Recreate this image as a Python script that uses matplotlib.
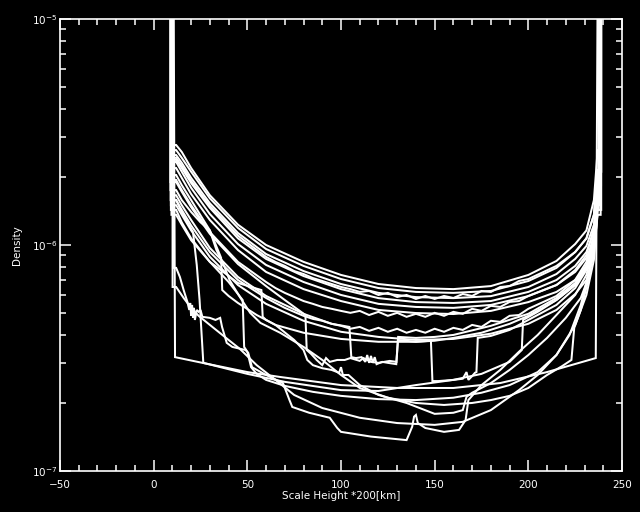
import matplotlib
matplotlib.use("Agg")
import matplotlib.pyplot as plt
from matplotlib.ticker import MultipleLocator, LogLocator, LogFormatterSciNotation, NullFormatter

WALL = 3e-5  # profiles shoot above the plotted range at both footpoints

# ---- shared abscissae -------------------------------------------------
grid_x = [12, 15, 20, 30, 45, 60, 80, 100, 120, 140, 160, 180, 200, 215, 225, 231, 235, 237]
wig_x = [12, 15, 20, 30, 45, 60, 65, 70, 75, 80, 85, 90, 95, 100, 105, 110, 115, 120, 125,
         130, 135, 140, 145, 150, 155, 160, 165, 170, 175, 180, 185, 190, 195, 200,
         215, 225, 231, 235, 237]

# ---- upper smooth profiles (on grid_x) --------------------------------
u1 = [2.77e-6, 2.58e-6, 2.19e-6, 1.66e-6, 1.23e-6, 1.00e-6, 8.42e-7, 7.37e-7, 6.72e-7, 6.45e-7,
      6.38e-7, 6.58e-7, 7.37e-7, 8.50e-7, 1.01e-6, 1.16e-6, 1.58e-6, 2.63e-6]
u2 = [2.63e-6, 2.43e-6, 2.11e-6, 1.61e-6, 1.19e-6, 9.60e-7, 8.08e-7, 7.07e-7, 6.45e-7, 6.20e-7,
      6.14e-7, 6.26e-7, 6.93e-7, 7.92e-7, 9.31e-7, 1.07e-6, 1.36e-6, 2.15e-6]
u3 = [2.50e-6, 2.31e-6, 1.98e-6, 1.53e-6, 1.13e-6, 9.12e-7, 7.67e-7, 6.72e-7, 6.14e-7, 5.88e-7,
      5.82e-7, 5.94e-7, 6.52e-7, 7.44e-7, 8.68e-7, 9.90e-7, 1.23e-6, 1.84e-6]
u4 = [2.38e-6, 2.19e-6, 1.88e-6, 1.46e-6, 1.07e-6, 8.68e-7, 7.29e-7, 6.38e-7, 5.82e-7, 5.59e-7,
      5.54e-7, 5.65e-7, 6.20e-7, 7.00e-7, 8.08e-7, 9.31e-7, 1.14e-6, 1.66e-6]
u5 = [2.33e-6, 2.11e-6, 1.79e-6, 1.37e-6, 1.01e-6, 8.16e-7, 6.86e-7, 6.01e-7, 5.49e-7, 5.32e-7,
      5.27e-7, 5.43e-7, 5.94e-7, 6.65e-7, 7.60e-7, 8.77e-7, 1.05e-6, 1.50e-6]
u6 = [2.19e-6, 1.98e-6, 1.68e-6, 1.29e-6, 9.50e-7, 7.60e-7, 6.38e-7, 5.65e-7, 5.16e-7, 5.00e-7,
      4.95e-7, 5.11e-7, 5.59e-7, 6.20e-7, 7.00e-7, 8.08e-7, 9.70e-7, 1.36e-6]
l3 = [1.50e-6, 1.36e-6, 1.16e-6, 8.86e-7, 6.65e-7, 5.49e-7, 4.62e-7, 4.13e-7, 3.92e-7, 3.80e-7,
      3.84e-7, 4.05e-7, 4.48e-7, 5.16e-7, 6.07e-7, 7.00e-7, 9.03e-7, 1.43e-6]
grid_ends = {"u1": (10.2, 238.0), "u2": (9.9, 238.4), "u3": (9.6, 238.8), "u4": (9.3, 237.8),
             "u5": (9.5, 238.2), "u6": (10.0, 238.6), "l3": (9.2, 237.6)}

# ---- wiggly profiles (on wig_x) ---------------------------------------
w1 = [1.94e-6, 1.75e-6, 1.50e-6, 1.14e-6, 8.42e-7, 6.86e-7, 6.45e-7, 6.14e-7, 5.89e-7, 5.65e-7,
      5.49e-7, 5.32e-7, 5.22e-7, 5.11e-7, 5.01e-7, 5.11e-7, 4.90e-7, 5.06e-7, 4.86e-7, 5.01e-7,
      4.81e-7, 4.96e-7, 4.81e-7, 5.01e-7, 4.86e-7, 5.06e-7, 4.96e-7, 5.22e-7, 5.11e-7, 5.38e-7,
      5.32e-7, 5.60e-7, 5.65e-7, 5.95e-7, 6.65e-7, 7.75e-7, 9.03e-7, 1.19e-6, 1.94e-6]
w2 = [1.58e-6, 1.43e-6, 1.22e-6, 9.31e-7, 7.00e-7, 5.83e-7, 5.54e-7, 5.27e-7, 5.06e-7, 4.86e-7,
      4.71e-7, 4.62e-7, 4.48e-7, 4.39e-7, 4.26e-7, 4.34e-7, 4.17e-7, 4.30e-7, 4.13e-7, 4.26e-7,
      4.09e-7, 4.21e-7, 4.09e-7, 4.26e-7, 4.13e-7, 4.30e-7, 4.21e-7, 4.43e-7, 4.34e-7, 4.62e-7,
      4.57e-7, 4.86e-7, 4.90e-7, 5.22e-7, 5.95e-7, 7.00e-7, 8.42e-7, 1.11e-6, 1.75e-6]
w3 = [2.43e-6, 2.24e-6, 1.92e-6, 1.49e-6, 1.10e-6, 8.86e-7, 8.42e-7, 8.08e-7, 7.67e-7, 7.44e-7,
      7.14e-7, 6.93e-7, 6.72e-7, 6.52e-7, 6.38e-7, 6.20e-7, 6.26e-7, 6.01e-7, 6.14e-7, 5.89e-7,
      6.01e-7, 5.77e-7, 5.95e-7, 5.77e-7, 5.95e-7, 5.83e-7, 6.07e-7, 5.95e-7, 6.26e-7, 6.20e-7,
      6.52e-7, 6.58e-7, 6.93e-7, 7.07e-7, 8.08e-7, 9.31e-7, 1.07e-6, 1.36e-6, 2.11e-6]
wig_ends = {"w1": (9.4, 238.5), "w2": (9.1, 237.7), "w3": (10.4, 238.9)}

# ---- profiles with depleted plateaus ----------------------------------
c5_x = [9.3, 12, 15, 20, 30, 45, 60, 80, 95, 104.5, 105.5, 108, 111, 113, 114, 115, 116, 117, 118,
        119, 122, 125, 129.5, 130.5, 140, 150, 160, 180, 200, 215, 225, 231, 235, 237, 238.3]
c5_d = [WALL, 1.66e-6, 1.50e-6, 1.29e-6, 9.70e-7, 7.22e-7, 5.95e-7, 4.96e-7, 4.48e-7, 4.34e-7,
        3.19e-7, 3.16e-7, 3.19e-7, 3.04e-7, 3.26e-7, 3.01e-7, 3.23e-7, 3.01e-7, 3.19e-7, 2.97e-7,
        3.04e-7, 3.01e-7, 2.97e-7, 3.92e-7, 3.88e-7, 3.92e-7, 4.00e-7, 4.39e-7, 4.96e-7, 5.83e-7,
        6.79e-7, 8.16e-7, 1.05e-6, 1.66e-6, WALL]

c4_x = [9.0, 12, 15, 20, 30, 45, 60, 70, 81, 81.7, 84, 87, 90, 92, 94, 98, 102, 105, 110, 112,
        116, 120, 126, 129.6, 130.4, 140, 150, 160, 175, 190, 200, 215, 225, 231, 235, 237, 237.9]
c4_d = [WALL, 1.90e-6, 1.72e-6, 1.47e-6, 1.12e-6, 8.24e-7, 6.58e-7, 5.71e-7, 4.90e-7, 3.43e-7,
        3.30e-7, 3.10e-7, 2.94e-7, 3.16e-7, 3.04e-7, 3.10e-7, 3.10e-7, 3.16e-7, 3.07e-7, 3.16e-7,
        3.04e-7, 3.01e-7, 3.07e-7, 3.04e-7, 3.80e-7, 3.73e-7, 3.77e-7, 3.88e-7, 4.09e-7, 4.48e-7,
        4.86e-7, 5.71e-7, 6.65e-7, 7.92e-7, 1.00e-6, 1.58e-6, WALL]

c1_x = [9.7, 12, 15, 20, 30, 36, 36.6, 40, 45, 55, 65, 80, 100, 120, 140, 148, 148.8, 152, 160, 165,
        167, 168, 170, 171.5, 172.3, 173.0, 180, 190, 200, 215, 225, 231, 235, 237, 238.1]
c1_d = [WALL, 2.04e-6, 1.84e-6, 1.58e-6, 1.16e-6, 8.77e-7, 6.32e-7, 5.95e-7, 5.54e-7, 4.90e-7,
        4.43e-7, 4.09e-7, 3.84e-7, 3.73e-7, 3.73e-7, 3.77e-7, 2.50e-7, 2.50e-7, 2.53e-7, 2.56e-7,
        2.74e-7, 2.53e-7, 2.63e-7, 2.72e-7, 2.74e-7, 3.88e-7, 3.96e-7, 4.21e-7, 4.66e-7, 5.43e-7,
        6.45e-7, 7.75e-7, 1.03e-6, 1.66e-6, WALL]

c3_x = [9.5, 12, 15, 20, 30, 45, 57.5, 58.2, 60, 65, 75, 80, 82, 85, 90, 95, 99, 100, 101, 104,
        110, 120, 135, 150, 160, 165, 167, 170, 180, 190, 200, 210, 220, 228, 232, 235, 237, 238.0]
c3_d = [WALL, 1.36e-6, 1.23e-6, 1.05e-6, 8.42e-7, 6.79e-7, 6.32e-7, 4.81e-7, 4.66e-7, 4.43e-7,
        3.80e-7, 3.43e-7, 3.10e-7, 2.94e-7, 2.85e-7, 2.80e-7, 2.72e-7, 2.88e-7, 2.66e-7, 2.66e-7,
        2.40e-7, 2.17e-7, 2.00e-7, 1.79e-7, 1.81e-7, 1.86e-7, 2.13e-7, 2.22e-7, 2.45e-7, 2.80e-7,
        3.26e-7, 3.88e-7, 4.76e-7, 5.83e-7, 7.14e-7, 9.50e-7, 1.58e-6, WALL]

# ---- low profiles ------------------------------------------------------
b1_x = [10.5, 11.4, 26, 50, 67, 100, 130, 160, 185, 210, 236, 237.2]
b1_d = [WALL, 3.19e-7, 3.01e-7, 2.74e-7, 2.61e-7, 2.40e-7, 2.33e-7, 2.33e-7, 2.45e-7, 2.74e-7,
        3.16e-7, WALL]

ls_x = [9.8, 12, 15, 18, 21, 23, 24.5, 26.5, 50, 70, 100, 120, 140, 160, 175, 190, 196.5, 197.2,
        205, 215, 225, 231, 235, 237, 238.2]
ls_d = [WALL, 1.58e-6, 1.40e-6, 1.26e-6, 1.14e-6, 8.16e-7, 5.71e-7, 3.01e-7, 2.69e-7, 2.48e-7,
        2.28e-7, 2.26e-7, 2.40e-7, 2.53e-7, 2.69e-7, 3.04e-7, 3.43e-7, 4.66e-7, 5.06e-7, 5.71e-7,
        6.65e-7, 7.92e-7, 1.05e-6, 1.75e-6, WALL]

lj_x = [10.3, 12, 14, 16, 18, 19, 19.5, 20, 20.5, 21, 21.5, 22, 23, 24, 25, 26, 30, 33, 35.5, 36.5,
        39, 42, 49, 50.5, 52.5, 60, 69, 72.5, 74, 83, 94, 98, 100, 116, 135, 138, 139, 140, 141, 145,
        155, 163, 166.5, 168, 175, 185, 195, 205, 215, 225, 231, 235, 237, 238.5]
lj_d = [WALL, 7.92e-7, 7.22e-7, 6.32e-7, 5.60e-7, 5.16e-7, 5.54e-7, 4.86e-7, 5.43e-7, 4.76e-7,
        5.27e-7, 4.66e-7, 5.16e-7, 5.06e-7, 5.16e-7, 4.81e-7, 4.76e-7, 4.66e-7, 4.76e-7, 4.34e-7,
        3.69e-7, 3.54e-7, 3.43e-7, 3.33e-7, 2.88e-7, 2.66e-7, 2.45e-7, 2.06e-7, 1.92e-7, 1.81e-7,
        1.72e-7, 1.55e-7, 1.49e-7, 1.42e-7, 1.37e-7, 1.57e-7, 1.74e-7, 1.77e-7, 1.63e-7, 1.55e-7,
        1.49e-7, 1.52e-7, 1.68e-7, 2.06e-7, 2.40e-7, 2.80e-7, 3.37e-7, 4.00e-7, 4.90e-7, 6.01e-7,
        7.37e-7, 1.00e-6, 1.66e-6, WALL]

b2_x = [9.2, 12, 15, 20, 30, 40, 47.5, 48.3, 50, 52, 55, 60, 70, 85, 100, 120, 140, 160, 175, 190,
        205, 215, 222, 228, 232, 235, 237, 238.7]
b2_d = [WALL, 1.43e-6, 1.26e-6, 1.07e-6, 8.42e-7, 6.86e-7, 5.71e-7, 3.54e-7, 3.37e-7, 2.88e-7,
        2.69e-7, 2.53e-7, 2.38e-7, 2.24e-7, 2.15e-7, 2.08e-7, 2.06e-7, 2.11e-7, 2.22e-7, 2.40e-7,
        2.74e-7, 3.26e-7, 4.00e-7, 5.43e-7, 7.37e-7, 1.00e-6, 1.58e-6, WALL]

b5_x = [9.0, 12, 15, 20, 25, 30, 33.5, 37, 40.5, 46, 51.5, 57, 67.5, 80, 90, 100, 110, 125, 140, 155,
        170, 180, 190, 200, 210, 218, 223, 224.5, 228, 232, 235, 237, 238.4]
b5_d = [WALL, 1.75e-6, 1.58e-6, 1.40e-6, 1.26e-6, 1.16e-6, 9.50e-7, 8.33e-7, 7.00e-7, 5.89e-7,
        5.01e-7, 4.52e-7, 4.09e-7, 3.54e-7, 3.10e-7, 2.66e-7, 2.33e-7, 2.11e-7, 2.00e-7, 1.96e-7,
        2.00e-7, 2.06e-7, 2.15e-7, 2.33e-7, 2.66e-7, 2.91e-7, 3.10e-7, 4.30e-7, 5.16e-7, 7.00e-7,
        9.50e-7, 1.58e-6, WALL]

b6_x = [10.1, 12, 16, 20, 24, 30, 40, 46, 55, 65, 75, 90, 110, 130, 150, 165, 180, 195, 205, 215,
        225, 231, 235, 237, 238.9]
b6_d = [WALL, 6.52e-7, 5.83e-7, 5.27e-7, 4.86e-7, 4.43e-7, 3.80e-7, 3.47e-7, 2.94e-7, 2.53e-7,
        2.17e-7, 1.90e-7, 1.72e-7, 1.63e-7, 1.60e-7, 1.65e-7, 1.86e-7, 2.28e-7, 2.66e-7, 3.26e-7,
        4.43e-7, 6.01e-7, 8.59e-7, 1.43e-6, WALL]

x_ticks = [-50, 0, 50, 100, 150, 200, 250]

# ---- figure -------------------------------------------------------------
plt.rcParams['font.family'] = ['DejaVu Sans']
fig = plt.figure(figsize=(6.4, 5.12), dpi=100, facecolor='black')
ax = fig.add_axes([60 / 640, 1 - 471 / 512, 562 / 640, 452 / 512], facecolor='black')
ax.set_yscale('log')
ax.set_xlim(-50, 250)
ax.set_ylim(1e-7, 1e-5)

LW = 1.45
style = dict(color='white', lw=LW, solid_joinstyle='miter')


def draw(xs, ds):
    # footpoints rise straight up from the first / last sampled value
    px = [xs[0]] + list(xs) + [xs[-1]]
    pd = [ds[0], ds[1]] + list(ds[1:-1]) + [ds[-2], ds[-1]]
    ax.plot(px, pd, **style)


curves = []
for name, vals in {"u1": u1, "u2": u2, "u3": u3, "u4": u4, "u5": u5, "u6": u6, "l3": l3}.items():
    x0, x1 = grid_ends[name]
    curves.append(([x0] + grid_x + [x1], [WALL] + vals + [WALL]))
for name, vals in {"w1": w1, "w2": w2, "w3": w3}.items():
    x0, x1 = wig_ends[name]
    curves.append(([x0] + wig_x + [x1], [WALL] + vals + [WALL]))
curves += [(c5_x, c5_d), (c4_x, c4_d), (c1_x, c1_d), (c3_x, c3_d), (ls_x, ls_d), (lj_x, lj_d),
           (b2_x, b2_d), (b5_x, b5_d), (b6_x, b6_d)]
for xs, ds in curves:
    draw(xs, ds)
ax.plot(b1_x, b1_d, **style)

for sp in ax.spines.values():
    sp.set_color('white')
    sp.set_linewidth(1.2)

ax.xaxis.set_major_locator(plt.FixedLocator(x_ticks))
ax.xaxis.set_minor_locator(MultipleLocator(10))
ax.yaxis.set_major_locator(LogLocator(base=10, numticks=10))
ax.yaxis.set_minor_locator(LogLocator(base=10, subs=range(2, 10), numticks=20))
ax.yaxis.set_major_formatter(LogFormatterSciNotation())
ax.yaxis.set_minor_formatter(NullFormatter())

ax.tick_params(which='both', direction='in', colors='white', top=True, right=True,
               labelsize=7.5, width=1.1)
ax.tick_params(which='major', length=8)
ax.tick_params(which='minor', length=4.5)
ax.tick_params(axis='x', which='major', pad=6.5)
ax.tick_params(axis='y', which='major', pad=2)

ax.set_xlabel('Scale Height *200[km]', color='white', fontsize=7.5)
ax.xaxis.set_label_coords(0.5, -0.044)
ax.set_ylabel('Density', color='white', fontsize=7.5)
ax.yaxis.set_label_coords(-0.068, 0.5)

fig.savefig('out.png', dpi=100, facecolor='black')
